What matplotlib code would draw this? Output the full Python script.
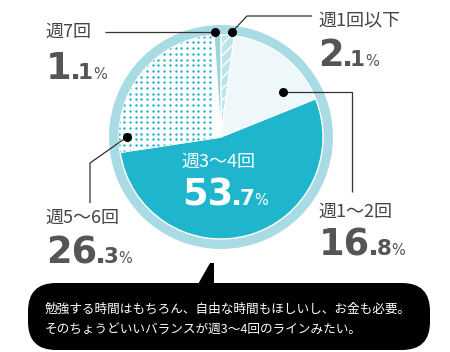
import numpy as np
import matplotlib
matplotlib.use('Agg')
import matplotlib.pyplot as plt
from matplotlib.patches import Circle, FancyBboxPatch, Polygon

# ---- data ----
categories = ['週1回以下', '週1〜2回', '週3〜4回', '週5〜6回', '週7回']
values = [2.1, 16.8, 53.7, 26.3, 1.1]
value_labels = ['2.1', '16.8', '53.7', '26.3', '1.1']
comment_lines = ['勉強する時間はもちろん、自由な時間もほしいし、お金も必要。',
                 'そのちょうどいいバランスが週3〜4回のラインみたい。']

W, H = 450, 352
fig = plt.figure(figsize=(4.5, 3.52), dpi=100)
ax = fig.add_axes([0, 0, 1, 1])


def Y(y):
    return H - y


JP = ['Noto Sans CJK JP', 'DejaVu Sans']
GRAY = '#555555'
CX, CY = 221, 137
R_RING, R_PIE = 112, 102

ring = Circle((CX, Y(CY)), R_RING, facecolor='#a9dbe5', edgecolor='none', zorder=0.5)
ax.add_patch(ring)

colors = ['#bde3eb', '#eef7fa', '#1fb5cc', '#ffffff', '#9bd3de']
wedges, _ = ax.pie(values, colors=colors, startangle=90, counterclock=False,
                   radius=R_PIE, center=(CX, Y(CY)), frame=True,
                   wedgeprops=dict(edgecolor='white', linewidth=1.0))
plt.rcParams['hatch.linewidth'] = 1.6
wedges[0].set_hatch('///')

# dot texture in the 週5〜6回 slice
step = 5.7
gx = np.arange(209.7, CX - R_PIE - 6, -step)
gy = np.arange(31.0, CY + 40, step)
XX, YY = np.meshgrid(gx, gy)
dots = ax.scatter(XX.ravel(), Y(YY.ravel()), s=3.2, color='#22b4cc', linewidths=0, zorder=3)
dots.set_clip_path(wedges[3])

# ---- leader lines ----
LC = '#333333'
leaders = [
    [(232, 32), (247, 16), (312, 16)],      # 週1回以下
    [(283, 92), (352, 92), (352, 192)],     # 週1〜2回
    [(127, 137), (90, 163), (90, 203)],     # 週5〜6回
    [(215, 32), (105, 32)],                 # 週7回
]
for pts in leaders:
    xs = [p[0] for p in pts]
    ys = [Y(p[1]) for p in pts]
    ax.plot(xs, ys, color=LC, lw=0.9, zorder=4, solid_capstyle='butt')
    ax.plot([xs[0]], [ys[0]], 'o', color='black', ms=5.5, zorder=5)

renderer = fig.canvas.get_renderer()


def big_number(x, ybase, s, color):
    ip, dec = s.split('.')
    t1 = ax.text(x, Y(ybase), ip, fontsize=26.5, fontweight='bold', family='DejaVu Sans',
                 color=color, va='baseline', ha='left', zorder=6)
    x += t1.get_window_extent(renderer).width - 2
    t2 = ax.text(x, Y(ybase), '.', fontsize=21, fontweight='bold', family='DejaVu Sans',
                 color=color, va='baseline', ha='left', zorder=6)
    x += t2.get_window_extent(renderer).width - 3
    t3 = ax.text(x, Y(ybase), dec, fontsize=15.5, fontweight='bold', family='DejaVu Sans',
                 color=color, va='baseline', ha='left', zorder=6)
    x += t3.get_window_extent(renderer).width
    ax.text(x, Y(ybase), '%', fontsize=10.5, family='DejaVu Sans',
            color=color, va='baseline', ha='left', zorder=6)


label_pos = {
    0: ((318, 20), (318, 66), GRAY),
    1: ((318, 212), (319, 255), GRAY),
    2: ((181, 162), (182, 205), 'white'),
    3: ((45, 218), (46, 263), GRAY),
    4: ((45, 32), (46, 79), GRAY),
}
for i, cat in enumerate(categories):
    (lx, ly), (nx, ny), col = label_pos[i]
    ax.text(lx, Y(ly), cat, fontsize=13, family=JP, color=col if col == 'white' else '#444444',
            va='center', ha='left', zorder=6)
    big_number(nx, ny, value_labels[i], col)

# ---- speech bubble ----
bubble = FancyBboxPatch((28, Y(350)), 402, 67,
                        boxstyle='round,pad=0,rounding_size=28',
                        facecolor='black', edgecolor='none', zorder=6)
ax.add_patch(bubble)
tail = Polygon([(197, Y(286)), (210, Y(263)), (214, Y(263)), (214, Y(286))],
               closed=True, facecolor='black', edgecolor='none', zorder=6)
ax.add_patch(tail)
ax.text(45, Y(309), comment_lines[0], fontsize=9.1, family=JP, color='white',
        va='center', ha='left', zorder=7)
ax.text(45, Y(330), comment_lines[1], fontsize=9.1, family=JP, color='white',
        va='center', ha='left', zorder=7)

ax.set_xlim(0, W)
ax.set_ylim(0, H)
ax.set_aspect('auto')
ax.axis('off')

fig.savefig('out.png', dpi=100)
